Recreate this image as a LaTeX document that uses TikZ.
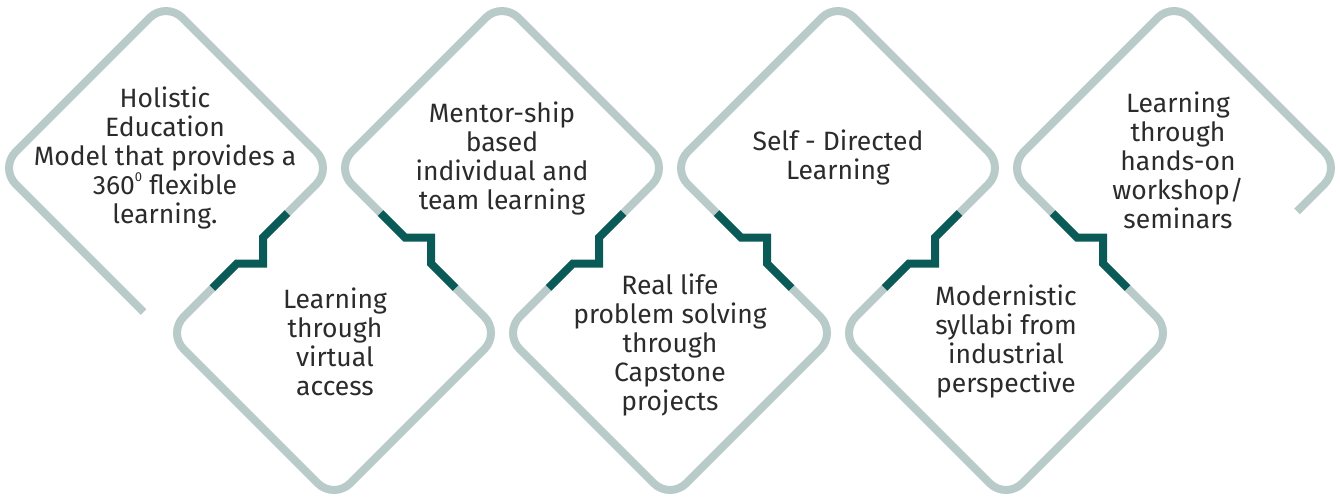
\documentclass[tikz,border=0pt]{standalone}
\usepackage{fontspec}
\setmainfont{Fira Sans}
\usetikzlibrary{calc}
\definecolor{lite}{HTML}{B8CBC8}
\definecolor{deep}{HTML}{0A5A58}
\definecolor{ink}{HTML}{2B2B2B}
\newcommand{\smalldeg}{\raisebox{0.5em}{\fontsize{13}{13}\selectfont 0}}
\begin{document}
\begin{tikzpicture}[x=1pt,y=-1pt,
  outline/.style={draw=lite,line width=8pt,rounded corners=23pt},
  link/.style={draw=deep,line width=8pt,miter limit=10},
  label/.style={text=ink,align=center,font=\fontsize{26.5}{29}\selectfont,inner sep=0pt}]
\useasboundingbox (0,0) rectangle (1341,496);
% corners of the chain of diamonds
\coordinate (s)  at (143.5,312);
\coordinate (l1) at (-0.5,168);   \coordinate (t1) at (166,1.5);    \coordinate (r1) at (332.5,168);
\coordinate (l2) at (167.5,333);  \coordinate (b2) at (334,499.5);  \coordinate (r2) at (500.5,333);
\coordinate (l3) at (335.5,168);  \coordinate (t3) at (502,1.5);    \coordinate (r3) at (668.5,168);
\coordinate (l4) at (503.5,333);  \coordinate (b4) at (670,499.5);  \coordinate (r4) at (836.5,333);
\coordinate (l5) at (671.5,168);  \coordinate (t5) at (838,1.5);    \coordinate (r5) at (1004.5,168);
\coordinate (l6) at (839.5,333);  \coordinate (b6) at (1006,499.5); \coordinate (r6) at (1172.5,333);
\coordinate (l7) at (1007.5,168); \coordinate (t7) at (1174,1.5);   \coordinate (r7) at (1340.5,168);
\coordinate (e)  at (1297,211.5);
% middles of the shared edges
\coordinate (m1) at (250,250.5);
\coordinate (m2) at (418,250.5);
\coordinate (m3) at (586,250.5);
\coordinate (m4) at (754,250.5);
\coordinate (m5) at (922,250.5);
\coordinate (m6) at (1090,250.5);
\foreach \k in {1,3,5}{
  \coordinate (c\k a) at ($(m\k)+(37.5,-37.5)$);
  \coordinate (c\k b) at ($(m\k)+(-37.5,37.5)$);
}
\foreach \k in {2,4,6}{
  \coordinate (c\k a) at ($(m\k)+(-37.5,-37.5)$);
  \coordinate (c\k b) at ($(m\k)+(37.5,37.5)$);
}
% light outlines
\draw[outline] (s) -- (l1) -- (t1) -- (r1) -- (c1a);
\draw[outline] (c1b) -- (l2) -- (b2) -- (r2) -- (c2b);
\draw[outline] (c2a) -- (l3) -- (t3) -- (r3) -- (c3a);
\draw[outline] (c3b) -- (l4) -- (b4) -- (r4) -- (c4b);
\draw[outline] (c4a) -- (l5) -- (t5) -- (r5) -- (c5a);
\draw[outline] (c5b) -- (l6) -- (b6) -- (r6) -- (c6b);
\draw[outline] (c6a) -- (l7) -- (t7) -- (r7) -- (e);
% dark step links
\foreach \k in {1,3,5}{
  \draw[link] (c\k a) -- ++(-24.5,24.5) -- ++(0,26) -- ++(-26,0) -- (c\k b);
}
\foreach \k in {2,4,6}{
  \draw[link] (c\k a) -- ++(24.5,24.5) -- ++(26,0) -- ++(0,26) -- (c\k b);
}
% texts
\node[label] (n1) at (165,158) {Holistic\\Education\\Model that provides a\\360\smalldeg{} flexible\\learning.};
\node[label] (n2) at (335,341.5) {Learning\\through\\virtual\\access};
\node[label] (n3) at (502,158) {Mentor-ship\\based\\individual and\\team learning};
\node[label] (n4) at (670,345) {Real life\\problem solving\\through\\Capstone\\projects};
\node[label] (n5) at (838,157) {Self - Directed\\Learning};
\node[label] (n6) at (1006,341) {Modernistic\\syllabi from\\industrial\\perspective};
\node[label] (n7) at (1178,160) {Learning\\through\\hands-on\\workshop/\\seminars};
\end{tikzpicture}
\end{document}
